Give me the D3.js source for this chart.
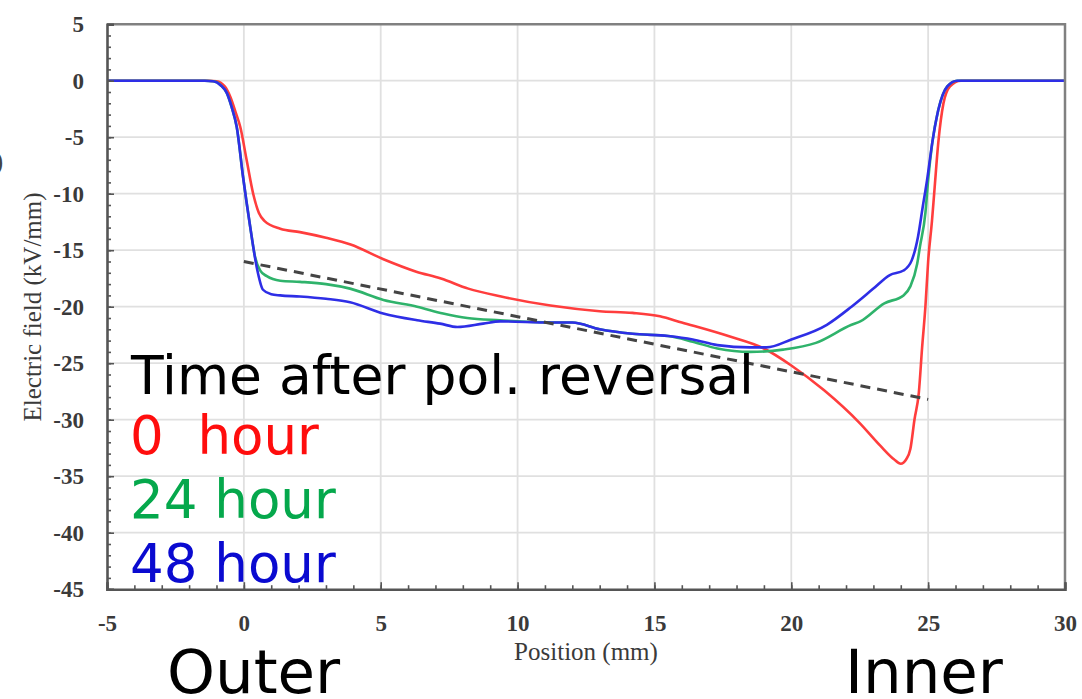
<!DOCTYPE html>
<html>
<head>
<meta charset="utf-8">
<script src="https://cdn.jsdelivr.net/npm/d3@7"></script>
<style>
  html, body { margin: 0; padding: 0; background: #fff; }
  svg { display: block; }
</style>
</head>
<body>
<svg id="chart" width="1082" height="699"></svg>
<script>
// Electric field profile across the insulation after polarity reversal
const xTicks = [-5, 0, 5, 10, 15, 20, 25, 30];
const yTicks = [5, 0, -5, -10, -15, -20, -25, -30, -35, -40, -45];

// Position (mm), field (kV/mm) pairs for each time after reversal
const hour0 = [[-5,0],[-1.3,0],[-1.0,-0.05],[-0.7,-0.5],[-0.5,-1.4],[-0.3,-2.8],[-0.13,-4.1],[0.1,-7.0],[0.34,-10],[0.55,-11.7],[0.75,-12.4],[1.33,-13.1],[2.05,-13.4],[3.0,-13.9],[3.9,-14.5],[5.1,-15.8],[6.3,-16.9],[7.2,-17.5],[8.2,-18.4],[9.4,-19.1],[11.2,-19.9],[13.0,-20.4],[14.2,-20.55],[15.2,-20.85],[16.0,-21.4],[17.7,-22.6],[19.0,-23.7],[20.0,-25.2],[21.2,-27.4],[22.5,-30.3],[23.25,-32.3],[23.75,-33.5],[24.0,-33.9],[24.2,-33.5],[24.35,-32.6],[24.5,-30],[24.66,-27.6],[24.78,-23.6],[24.9,-20],[25.0,-16],[25.14,-12.4],[25.22,-10],[25.37,-5.5],[25.56,-2.0],[25.8,-0.5],[26.2,0],[30,0]];
const hour24 = [[-5,0],[-1.4,0],[-1.1,-0.05],[-0.82,-0.45],[-0.62,-1.1],[-0.45,-2.3],[-0.26,-4.1],[-0.03,-8.5],[0.23,-12.9],[0.41,-15.6],[0.6,-16.8],[0.84,-17.3],[1.33,-17.7],[2.05,-17.8],[3.0,-18.0],[3.88,-18.4],[5.1,-19.4],[6.33,-20.0],[7.28,-20.6],[8.16,-21.0],[9.36,-21.2],[11.2,-21.4],[12.0,-21.4],[13.0,-22.0],[14.2,-22.4],[15.5,-22.6],[16.4,-23.1],[17.3,-23.7],[18.5,-24.0],[19.7,-23.8],[20.9,-23.2],[22.2,-21.6],[22.52,-21.3],[23.4,-19.7],[24.1,-19.0],[24.35,-18.2],[24.6,-16.2],[24.7,-14.7],[24.9,-11.7],[25.0,-8.8],[25.15,-5.5],[25.37,-2.6],[25.7,-0.5],[26.06,0],[30,0]];
const hour48 = [[-5,0],[-1.45,0],[-1.12,-0.05],[-0.85,-0.4],[-0.62,-1.1],[-0.45,-2.3],[-0.26,-4.1],[-0.03,-8.5],[0.23,-12.9],[0.47,-16.5],[0.7,-18.5],[1.0,-18.9],[1.33,-19.0],[2.05,-19.1],[3.0,-19.3],[3.88,-19.6],[5.09,-20.6],[6.33,-21.2],[7.17,-21.5],[7.8,-21.8],[8.74,-21.5],[9.36,-21.3],[11.2,-21.4],[12.0,-21.4],[13.0,-22.0],[14.2,-22.4],[15.5,-22.6],[16.4,-22.9],[17.3,-23.4],[18.5,-23.6],[19.1,-23.6],[20.0,-22.9],[21.3,-21.6],[22.2,-20.0],[23.0,-18.4],[23.6,-17.2],[24.1,-16.8],[24.4,-15.9],[24.63,-13.8],[24.8,-11.2],[24.96,-8.8],[25.15,-5.5],[25.37,-2.6],[25.7,-0.5],[26.06,0],[30,0]];

// Linear trend across the insulation
const trendX = [0, 25];
const trendY = [-16, -28.2];

const legendTitle = "Time after pol. reversal";
const seriesLabels = ["0  hour", "24 hour", "48 hour"];
const lineColors = ["#ff3d3d", "#2fb36b", "#2e2ee6"];
const textColors = ["#ff0d0d", "#05a84c", "#0a0ad0"];
const sideLabels = ["Outer", "Inner"];

const svg = d3.select("#chart");
const plotLeft = 107, plotRight = 1065, plotTop = 24.2, plotBottom = 589.2;

const x = d3.scaleLinear().domain([-5, 30]).range([plotLeft, plotRight]);
const y = d3.scaleLinear().domain([-45, 5]).range([plotBottom, plotTop]);

// grid
const grid = svg.append("g").attr("stroke", "#e0e0e0").attr("stroke-width", 1.8);
grid.selectAll("line.gx").data(xTicks.filter(v => v > -5 && v < 30)).join("line")
  .attr("class", "gx")
  .attr("x1", d => x(d)).attr("x2", d => x(d)).attr("y1", plotTop).attr("y2", plotBottom);
grid.selectAll("line.gy").data(yTicks.filter(v => v < 5 && v > -45)).join("line")
  .attr("class", "gy")
  .attr("y1", d => y(d)).attr("y2", d => y(d)).attr("x1", plotLeft).attr("x2", plotRight);

// curves
const line = d3.line().x(d => x(d[0])).y(d => y(d[1])).curve(d3.curveMonotoneX);
[hour0, hour24, hour48].forEach((s, i) => {
  svg.append("path").datum(s)
    .attr("fill", "none")
    .attr("stroke", lineColors[i])
    .attr("stroke-width", 2.6)
    .attr("stroke-linejoin", "round")
    .attr("d", line);
});

// dashed trend
svg.append("path").datum(trendX.map((v, i) => [v, trendY[i]]))
  .attr("fill", "none")
  .attr("stroke", "#444")
  .attr("stroke-width", 3)
  .attr("stroke-dasharray", "10,7")
  .attr("d", d3.line().x(d => x(d[0])).y(d => y(d[1])));

// frame (top and right)
svg.append("path")
  .attr("d", `M${plotLeft},${plotTop}H${plotRight}V${plotBottom}`)
  .attr("fill", "none").attr("stroke", "#808080").attr("stroke-width", 2.5);

const tickFont = g => g.selectAll("text")
  .attr("font-family", "'Liberation Serif', 'Times New Roman', serif")
  .attr("font-size", 23).attr("font-weight", "bold").attr("fill", "#3a3a3a");
const plainNumber = d => String(d);

// y axis: major and minor inward ticks
svg.append("g").attr("transform", `translate(${plotLeft},0)`)
  .call(d3.axisLeft(y).tickValues(yTicks).tickSize(-7).tickPadding(23).tickFormat(plainNumber))
  .call(tickFont);
svg.append("g").attr("transform", `translate(${plotLeft},0)`)
  .call(d3.axisLeft(y).tickValues(d3.range(-45, 5, 1)).tickSize(-4).tickFormat(""))
  .call(g => g.select(".domain").remove());

// x axis: major and minor inward ticks
svg.append("g").attr("transform", `translate(0,${plotBottom})`)
  .call(d3.axisBottom(x).tickValues(xTicks).tickSize(-7).tickPadding(25).tickFormat(plainNumber))
  .call(tickFont);
svg.append("g").attr("transform", `translate(0,${plotBottom})`)
  .call(d3.axisBottom(x).tickValues(d3.range(-5, 30, 1)).tickSize(-4).tickFormat(""))
  .call(g => g.select(".domain").remove());

svg.selectAll(".domain").attr("stroke", "#555").attr("stroke-width", 2.6);
svg.selectAll(".tick line").attr("stroke", "#555").attr("stroke-width", 1.6);

// axis titles
svg.append("text")
  .attr("x", x(12.5)).attr("y", 660)
  .attr("text-anchor", "middle")
  .attr("font-family", "'Liberation Serif', 'Times New Roman', serif")
  .attr("font-size", 25).attr("fill", "#3a3a3a")
  .text("Position (mm)");

svg.append("text")
  .attr("transform", "translate(41,307) rotate(-90)")
  .attr("text-anchor", "middle")
  .attr("font-family", "'Liberation Serif', 'Times New Roman', serif")
  .attr("font-size", 25).attr("fill", "#3a3a3a")
  .text("Electric field (kV/mm)");

svg.append("text")
  .attr("x", -6).attr("y", 170)
  .attr("font-family", "'Liberation Serif', 'Times New Roman', serif")
  .attr("font-size", 28).attr("fill", "#444")
  .text(")");

// legend
const legendFont = "'DejaVu Sans', Verdana, sans-serif";
svg.append("text")
  .attr("x", 131).attr("y", 394)
  .attr("font-family", legendFont).attr("font-size", 53.5).attr("fill", "#000")
  .text(legendTitle);
svg.selectAll("text.series").data(seriesLabels).join("text")
  .attr("class", "series")
  .attr("x", 130).attr("y", (d, i) => 454 + i * 64)
  .attr("font-family", legendFont).attr("font-size", 53)
  .attr("fill", (d, i) => textColors[i])
  .style("white-space", "pre")
  .text(d => d);

// side labels
svg.append("text")
  .attr("x", 167).attr("y", 693)
  .attr("font-family", legendFont).attr("font-size", 61).attr("fill", "#000")
  .text(sideLabels[0]);
svg.append("text")
  .attr("x", 845).attr("y", 693)
  .attr("font-family", legendFont).attr("font-size", 61).attr("fill", "#000")
  .text(sideLabels[1]);
</script>
</body>
</html>
